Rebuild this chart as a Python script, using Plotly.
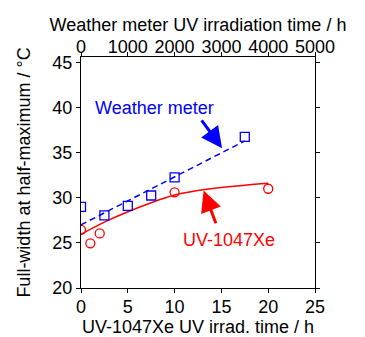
import plotly.graph_objects as go

# Weather meter data (top axis, hours)
wm_hours = [0, 500, 1000, 1500, 2000, 3500]
wm_fwhm = [29.0, 28.05, 29.1, 30.25, 32.25, 36.75]
wm_fit_hours = [0, 3500]
wm_fit_fwhm = [27.0, 36.3]

# UV-1047Xe data (bottom axis, hours)
xe_hours = [0, 1, 2, 10, 20]
xe_fwhm = [26.45, 24.95, 26.05, 30.6, 31.0]
xe_fit_hours = [0, 2.5, 5, 7.5, 10, 12.5, 15, 17.5, 20]
xe_fit_fwhm = [25.95, 27.3, 28.45, 29.45, 30.3, 30.8, 31.15, 31.4, 31.6]

bottom_ticks = [0, 5, 10, 15, 20, 25]
top_ticks = [0, 1000, 2000, 3000, 4000, 5000]
left_ticks = [20, 25, 30, 35, 40, 45]

FONT = "Arial, Liberation Sans, sans-serif"
BLUE = "#0000ff"
RED = "#ff0000"

fig = go.Figure()
fig.add_trace(go.Scatter(x=xe_fit_hours, y=xe_fit_fwhm, mode="lines",
                         line=dict(color=RED, width=1.5, shape="spline"),
                         xaxis="x", yaxis="y", showlegend=False))
fig.add_trace(go.Scatter(x=xe_hours, y=xe_fwhm, mode="markers",
                         marker=dict(symbol="circle-open", size=9, color=RED, line=dict(width=1.3)),
                         xaxis="x", yaxis="y", showlegend=False))
fig.add_trace(go.Scatter(x=wm_fit_hours, y=wm_fit_fwhm, mode="lines",
                         line=dict(color=BLUE, width=1.5, dash="6px,4px"),
                         xaxis="x2", yaxis="y", showlegend=False))
fig.add_trace(go.Scatter(x=wm_hours, y=wm_fwhm, mode="markers",
                         marker=dict(symbol="square-open", size=9, color=BLUE, line=dict(width=1.3)),
                         xaxis="x2", yaxis="y", showlegend=False))

axis_common = dict(showgrid=False, zeroline=False, showline=True, linecolor="black", linewidth=1.2,
                   ticks="outside", ticklen=4, tickwidth=1.2, tickcolor="black", automargin=False,
                   tickfont=dict(family=FONT, size=18, color="black"))

fig.update_layout(
    width=365, height=337,
    margin=dict(l=80.5, r=50, t=57, b=49),
    paper_bgcolor="white", plot_bgcolor="white",
    font=dict(family=FONT, size=18, color="black"),
    xaxis=dict(range=[0, 25], tickvals=bottom_ticks, mirror=False, ticklabelstandoff=-2,
               title=dict(text="UV-1047Xe UV irrad. time / h", font=dict(family=FONT, size=18), standoff=0),
               **axis_common),
    xaxis2=dict(range=[0, 5000], tickvals=top_ticks, overlaying="x", side="top", anchor="y",
                ticklabelstandoff=-8,
                title=dict(text="Weather meter UV irradiation time / h", font=dict(family=FONT, size=18), standoff=0),
                **axis_common),
    yaxis=dict(range=[20, 45.6], tickvals=left_ticks, mirror="ticks",
               title=dict(text="Full-width at half-maximum / °C", font=dict(family=FONT, size=18), standoff=16),
               **axis_common),
)

fig.add_annotation(x=15.07, y=35.5, ax=12.77, ay=38.74, xref="x", yref="y", axref="x", ayref="y",
                   text="", showarrow=True, arrowhead=2, arrowsize=1.4, arrowwidth=3, arrowcolor=BLUE)
fig.add_annotation(x=13.1, y=30.8, ax=14.47, ay=27.0, xref="x", yref="y", axref="x", ayref="y",
                   text="", showarrow=True, arrowhead=2, arrowsize=1.4, arrowwidth=3, arrowcolor=RED)
fig.add_annotation(x=7.9, y=40.0, xref="x", yref="y", text="Weather meter", showarrow=False,
                   font=dict(family=FONT, size=18, color=BLUE))
fig.add_annotation(x=15.85, y=25.35, xref="x", yref="y", text="UV-1047Xe", showarrow=False,
                   font=dict(family=FONT, size=18, color=RED))

fig.write_html("out.html", config={"displayModeBar": False},
               post_script="document.body.style.margin='0px';")
